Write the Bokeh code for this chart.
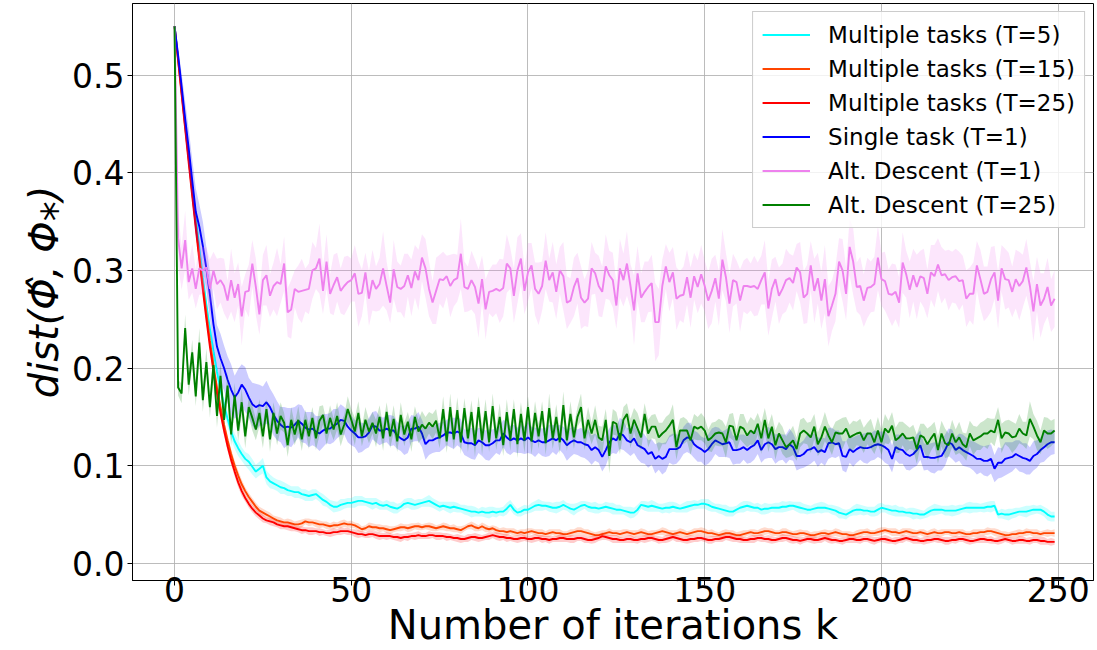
import numpy as np
from bokeh.plotting import figure
from bokeh.models import (Legend, LegendItem, FixedTicker, PrintfTickFormatter, Range1d)
from bokeh.embed import file_html
from bokeh.resources import INLINE

ITERATIONS = list(range(250))
X_TICKS = [0, 50, 100, 150, 200, 250]
Y_TICKS = [0.0, 0.1, 0.2, 0.3, 0.4, 0.5]

LABELS = ["Multiple tasks (T=5)", "Multiple tasks (T=15)", "Multiple tasks (T=25)",
          "Single task (T=1)", "Alt. Descent (T=1)", "Alt. Descent (T=25)"]
X_TITLE = "Number of iterations k"
Y_TITLE = "dist(Φ̂, Φ⁎)"

CYAN_MEAN = [
    .550,.517,.484,.451,.418,.386,.354,.323,.293,.265,.240,.217,.196,.178,.162,.148,.135,.125,.118,.112,.107,.104,.099,.094,.097,
    .100,.088,.084,.082,.080,.078,.077,.075,.074,.073,.073,.071,.070,.069,.070,.071,.068,.065,.063,.060,.058,.058,.060,.061,.062,
    .062,.063,.064,.064,.063,.062,.061,.062,.060,.059,.060,.058,.057,.056,.058,.061,.062,.061,.060,.061,.062,.063,.064,.062,.060,
    .058,.059,.058,.057,.058,.057,.056,.055,.054,.053,.053,.052,.053,.052,.052,.053,.052,.053,.053,.056,.060,.055,.052,.053,.055,
    .055,.057,.059,.060,.059,.059,.058,.057,.057,.058,.060,.058,.056,.055,.057,.059,.060,.058,.057,.057,.056,.057,.058,.057,.056,
    .055,.055,.054,.053,.052,.052,.055,.060,.059,.058,.059,.058,.057,.056,.057,.057,.058,.057,.056,.057,.058,.059,.060,.060,.061,
    .061,.060,.058,.057,.056,.055,.054,.053,.053,.055,.057,.058,.059,.058,.057,.057,.055,.056,.056,.057,.057,.057,.058,.058,.059,
    .059,.058,.057,.056,.055,.055,.056,.057,.057,.057,.056,.055,.054,.052,.051,.050,.052,.054,.055,.055,.054,.054,.053,.053,.055,
    .057,.056,.055,.054,.054,.053,.053,.052,.052,.051,.051,.050,.050,.052,.054,.055,.055,.055,.054,.054,.054,.054,.055,.056,.057,
    .057,.057,.057,.057,.057,.058,.058,.059,.050,.051,.050,.050,.051,.052,.053,.053,.053,.054,.055,.055,.055,.053,.050,.048,.048]
CYAN_STD = [
    .000,.002,.003,.004,.004,.005,.005,.006,.006,.006,.007,.007,.007,.008,.008,.008,.008,.008,.008,.007,.007,.008,.008,.007,.007,
    .008,.007,.007,.006,.006,.007,.006,.006,.005,.006,.006,.005,.006,.005,.006,.005,.005,.006,.005,.005,.006,.005,.006,.005,.005,
    .005,.006,.005,.005,.004,.005,.006,.005,.005,.004,.005,.005,.006,.005,.004,.005,.005,.006,.005,.005,.004,.005,.006,.005,.005,
    .005,.004,.005,.006,.005,.005,.004,.005,.005,.006,.005,.004,.005,.005,.006,.005,.005,.004,.005,.006,.005,.005,.004,.005,.005,
    .004,.005,.005,.006,.005,.004,.005,.005,.006,.005,.005,.004,.005,.006,.005,.005,.004,.005,.005,.006,.005,.004,.005,.005,.006,
    .005,.005,.004,.005,.006,.005,.005,.004,.005,.005,.006,.005,.004,.005,.005,.006,.005,.005,.004,.005,.006,.005,.005,.004,.005,
    .005,.006,.005,.004,.005,.005,.006,.005,.005,.004,.005,.006,.005,.005,.004,.005,.005,.006,.005,.004,.005,.005,.006,.005,.005,
    .004,.005,.006,.005,.005,.004,.005,.005,.006,.005,.004,.005,.005,.006,.005,.005,.004,.005,.006,.005,.005,.004,.005,.005,.006,
    .005,.004,.005,.005,.006,.005,.005,.004,.005,.006,.005,.005,.004,.005,.005,.006,.005,.004,.005,.005,.006,.005,.005,.004,.005,
    .006,.005,.005,.004,.005,.005,.006,.005,.004,.005,.005,.006,.005,.005,.004,.005,.006,.005,.005,.004,.005,.005,.006,.005,.005]

ORANGE_MEAN = [
    .550,.516,.482,.448,.414,.380,.347,.315,.285,.256,.228,.203,.180,.160,.142,.126,.112,.100,.090,.081,.074,.068,.063,.058,.054,
    .052,.050,.048,.046,.044,.043,.042,.042,.041,.040,.040,.041,.043,.042,.042,.041,.040,.040,.039,.038,.039,.039,.040,.041,.040,
    .040,.039,.037,.035,.036,.038,.037,.037,.036,.036,.035,.034,.035,.036,.037,.037,.036,.037,.038,.038,.037,.038,.038,.037,.036,
    .037,.038,.037,.036,.036,.035,.034,.036,.038,.039,.037,.036,.038,.036,.035,.036,.034,.033,.033,.032,.033,.032,.031,.032,.031,
    .032,.033,.032,.031,.031,.030,.031,.032,.031,.031,.030,.030,.031,.032,.033,.033,.032,.031,.030,.029,.029,.030,.031,.032,.031,
    .031,.030,.031,.032,.031,.030,.031,.032,.031,.030,.030,.031,.032,.033,.032,.031,.030,.031,.032,.031,.030,.031,.032,.033,.033,
    .032,.031,.031,.030,.029,.030,.031,.031,.030,.029,.029,.030,.031,.032,.031,.031,.032,.033,.033,.032,.031,.031,.032,.032,.031,
    .030,.030,.031,.031,.030,.029,.029,.030,.031,.031,.030,.031,.032,.031,.030,.030,.029,.029,.030,.031,.032,.032,.031,.031,.032,
    .033,.034,.033,.032,.032,.031,.032,.033,.032,.031,.031,.032,.031,.030,.031,.032,.031,.031,.032,.032,.031,.031,.032,.031,.030,
    .030,.031,.031,.032,.032,.033,.033,.032,.031,.030,.029,.029,.030,.030,.031,.031,.032,.032,.031,.031,.030,.031,.031,.031,.031]
ORANGE_STD = [
    .000,.002,.003,.003,.004,.004,.004,.005,.005,.005,.005,.005,.005,.005,.005,.005,.005,.005,.005,.005,.004,.004,.004,.004,.004,
    .004,.004,.004,.003,.004,.004,.003,.004,.004,.003,.004,.004,.003,.004,.003,.004,.004,.003,.004,.003,.004,.003,.004,.004,.003,
    .004,.003,.004,.003,.003,.004,.004,.003,.004,.003,.004,.004,.003,.003,.004,.003,.004,.004,.003,.004,.003,.003,.004,.004,.003,
    .003,.004,.004,.003,.004,.003,.004,.003,.003,.004,.004,.003,.004,.004,.003,.003,.004,.003,.004,.004,.003,.004,.003,.003,.004,
    .004,.003,.003,.004,.004,.003,.004,.003,.004,.004,.003,.003,.004,.003,.004,.004,.003,.004,.003,.003,.004,.004,.003,.004,.003,
    .003,.004,.004,.003,.003,.004,.003,.004,.004,.003,.004,.003,.003,.004,.004,.003,.004,.003,.004,.004,.003,.003,.004,.003,.004,
    .004,.003,.004,.003,.003,.004,.004,.003,.004,.003,.004,.004,.003,.003,.004,.003,.004,.004,.003,.004,.003,.003,.004,.004,.003,
    .003,.004,.004,.003,.004,.003,.004,.003,.003,.004,.004,.003,.004,.004,.003,.003,.004,.003,.004,.004,.003,.004,.003,.003,.004,
    .004,.003,.003,.004,.004,.003,.004,.003,.004,.004,.003,.003,.004,.003,.004,.004,.003,.004,.003,.003,.004,.004,.003,.004,.003,
    .003,.004,.004,.003,.003,.004,.003,.004,.004,.003,.004,.003,.003,.004,.004,.003,.004,.003,.004,.004,.003,.003,.004,.003,.004]

RED_MEAN = [
    .550,.515,.480,.445,.410,.376,.343,.311,.280,.250,.222,.197,.174,.154,.136,.120,.106,.094,.083,.074,.067,.061,.056,.052,.049,
    .046,.044,.043,.042,.040,.039,.038,.038,.037,.036,.035,.034,.034,.033,.033,.033,.032,.032,.031,.031,.032,.032,.033,.033,.033,
    .032,.031,.030,.030,.029,.030,.030,.029,.028,.028,.028,.028,.027,.027,.026,.027,.027,.028,.028,.029,.028,.028,.029,.029,.028,
    .028,.028,.027,.027,.026,.026,.025,.025,.026,.027,.027,.026,.026,.027,.028,.029,.028,.027,.027,.026,.026,.025,.025,.026,.026,
    .025,.025,.026,.026,.025,.025,.024,.025,.025,.026,.026,.025,.025,.025,.026,.026,.025,.024,.024,.025,.026,.028,.027,.026,.025,
    .025,.024,.024,.025,.025,.024,.024,.025,.025,.026,.026,.025,.024,.024,.025,.026,.027,.026,.025,.024,.024,.025,.025,.026,.026,
    .025,.024,.024,.025,.025,.026,.027,.027,.026,.025,.025,.024,.024,.025,.025,.026,.026,.025,.025,.024,.024,.025,.026,.026,.025,
    .024,.024,.023,.024,.025,.025,.024,.024,.025,.026,.025,.024,.024,.023,.023,.024,.025,.025,.024,.024,.025,.025,.024,.023,.024,
    .025,.025,.024,.023,.023,.024,.025,.026,.025,.024,.024,.023,.023,.024,.024,.025,.025,.024,.023,.023,.024,.024,.025,.025,.024,
    .023,.023,.024,.025,.025,.024,.024,.023,.023,.024,.025,.024,.023,.023,.024,.024,.023,.023,.024,.024,.023,.023,.022,.022,.022]
RED_STD = [
    .000,.002,.003,.003,.004,.004,.004,.005,.005,.005,.005,.005,.005,.005,.005,.005,.005,.005,.005,.005,.004,.004,.004,.004,.004,
    .004,.003,.004,.004,.003,.004,.003,.004,.004,.003,.003,.004,.003,.004,.004,.003,.004,.003,.003,.004,.004,.003,.004,.003,.004,
    .003,.004,.004,.003,.003,.004,.003,.004,.004,.003,.004,.003,.003,.004,.004,.003,.004,.003,.004,.004,.003,.003,.004,.003,.004,
    .004,.003,.004,.003,.003,.004,.004,.003,.004,.003,.004,.004,.003,.003,.004,.003,.004,.004,.003,.004,.003,.003,.004,.004,.003,
    .003,.004,.004,.003,.004,.003,.004,.003,.003,.004,.004,.003,.004,.004,.003,.003,.004,.003,.004,.004,.003,.004,.003,.003,.004,
    .004,.003,.003,.004,.004,.003,.004,.003,.004,.004,.003,.003,.004,.003,.004,.004,.003,.004,.003,.003,.004,.004,.003,.004,.003,
    .003,.004,.004,.003,.003,.004,.003,.004,.004,.003,.004,.003,.003,.004,.004,.003,.004,.003,.004,.004,.003,.003,.004,.003,.004,
    .004,.003,.004,.003,.003,.004,.004,.003,.004,.003,.004,.004,.003,.003,.004,.003,.004,.004,.003,.004,.003,.003,.004,.004,.003,
    .003,.004,.004,.003,.004,.003,.004,.003,.003,.004,.004,.003,.004,.004,.003,.003,.004,.003,.004,.004,.003,.004,.003,.003,.004,
    .004,.003,.003,.004,.004,.003,.004,.003,.004,.004,.003,.003,.004,.003,.004,.004,.003,.004,.003,.003,.004,.004,.003,.004,.003]

BLUE_MEAN = [
    .550,.520,.488,.455,.425,.392,.360,.345,.325,.302,.275,.245,.222,.210,.200,.188,.178,.170,.175,.183,.178,.170,.163,.160,.162,
    .161,.165,.160,.152,.146,.142,.139,.140,.139,.142,.146,.143,.139,.137,.138,.135,.133,.136,.138,.138,.141,.143,.147,.146,.140,
    .136,.133,.129,.129,.130,.134,.141,.140,.136,.136,.138,.136,.136,.131,.128,.126,.129,.138,.138,.140,.133,.122,.126,.126,.128,
    .129,.131,.134,.134,.133,.135,.133,.124,.123,.123,.121,.126,.124,.121,.121,.123,.126,.126,.133,.129,.126,.128,.126,.128,.126,
    .129,.126,.124,.126,.124,.124,.126,.128,.126,.129,.126,.121,.124,.126,.124,.124,.122,.121,.116,.119,.116,.109,.116,.124,.128,
    .126,.133,.131,.126,.124,.128,.121,.119,.117,.112,.114,.107,.110,.107,.109,.117,.117,.117,.119,.126,.129,.128,.122,.119,.117,
    .114,.117,.122,.126,.124,.122,.123,.124,.116,.116,.117,.119,.116,.119,.121,.126,.116,.122,.124,.122,.117,.119,.119,.117,.122,
    .119,.110,.110,.112,.116,.117,.119,.114,.116,.114,.123,.124,.122,.123,.110,.109,.117,.114,.117,.119,.118,.118,.119,.121,.122,
    .121,.119,.116,.107,.119,.117,.116,.112,.110,.112,.116,.121,.109,.109,.108,.108,.109,.110,.116,.124,.122,.116,.119,.116,.114,
    .112,.110,.107,.107,.105,.105,.107,.097,.103,.103,.107,.108,.109,.112,.110,.108,.107,.105,.110,.112,.116,.119,.122,.124,.124]
BLUE_STD = [
    .000,.008,.014,.018,.020,.022,.024,.023,.025,.022,.024,.026,.022,.025,.023,.024,.026,.022,.024,.021,.023,.020,.022,.024,.021,
    .020,.022,.019,.021,.020,.018,.021,.019,.020,.018,.017,.019,.016,.018,.017,.016,.018,.017,.015,.016,.017,.015,.016,.014,.016,
    .015,.014,.016,.015,.013,.015,.014,.016,.015,.013,.014,.016,.015,.014,.013,.015,.016,.014,.013,.015,.014,.016,.015,.013,.014,
    .015,.014,.013,.015,.016,.014,.015,.013,.014,.016,.015,.013,.014,.015,.016,.014,.013,.015,.014,.016,.015,.014,.013,.015,.014,
    .016,.014,.015,.013,.014,.015,.016,.014,.015,.013,.014,.016,.015,.014,.013,.015,.014,.016,.015,.014,.013,.015,.016,.014,.015,
    .014,.016,.015,.013,.014,.015,.014,.016,.015,.014,.013,.015,.014,.016,.015,.014,.016,.015,.013,.014,.015,.016,.014,.015,.013,
    .014,.015,.016,.014,.015,.013,.014,.016,.015,.014,.015,.013,.014,.016,.015,.014,.013,.015,.016,.014,.015,.014,.013,.015,.016,
    .014,.015,.013,.014,.016,.015,.014,.015,.013,.014,.016,.015,.014,.013,.015,.016,.014,.015,.014,.013,.015,.016,.014,.015,.013,
    .014,.016,.015,.014,.013,.015,.014,.016,.015,.014,.016,.015,.014,.013,.015,.016,.014,.015,.016,.014,.015,.013,.014,.016,.015,
    .014,.015,.016,.014,.015,.016,.015,.014,.016,.015,.017,.016,.015,.014,.016,.015,.016,.014,.015,.014,.013,.015,.014,.013,.012]

PINK_MEAN = [
    .550,.333,.302,.331,.288,.302,.281,.302,.300,.303,.281,.300,.286,.290,.284,.269,.290,.272,.286,.253,.278,.279,.307,.283,.255,
    .290,.295,.274,.284,.288,.286,.307,.257,.260,.281,.278,.279,.280,.281,.300,.302,.312,.279,.309,.276,.285,.293,.279,.284,.288,
    .290,.297,.276,.277,.298,.271,.290,.281,.286,.302,.284,.267,.301,.283,.281,.284,.295,.282,.299,.290,.313,.302,.281,.267,.279,
    .291,.290,.294,.284,.290,.292,.317,.283,.281,.290,.283,.266,.291,.260,.278,.279,.281,.279,.282,.307,.302,.274,.300,.312,.279,
    .298,.305,.281,.276,.284,.310,.290,.298,.278,.300,.294,.267,.269,.283,.292,.272,.267,.271,.302,.297,.284,.278,.304,.295,.290,
    .264,.302,.290,.307,.284,.259,.297,.272,.278,.283,.287,.247,.247,.284,.304,.288,.298,.271,.274,.275,.293,.272,.294,.283,.296,
    .284,.269,.279,.292,.271,.311,.293,.266,.290,.288,.269,.284,.284,.283,.284,.281,.290,.298,.261,.281,.291,.274,.281,.290,.292,
    .287,.303,.298,.272,.276,.305,.279,.292,.269,.291,.253,.264,.276,.309,.300,.276,.324,.309,.283,.284,.269,.282,.283,.286,.313,
    .291,.289,.276,.275,.278,.267,.308,.296,.280,.295,.283,.294,.292,.276,.298,.294,.306,.295,.296,.290,.293,.294,.289,.290,.271,
    .276,.276,.305,.291,.276,.278,.291,.298,.269,.302,.291,.290,.278,.291,.284,.289,.303,.284,.258,.286,.264,.271,.283,.264,.271]
PINK_STD = [
    .000,.028,.022,.030,.018,.025,.020,.027,.024,.021,.030,.019,.026,.023,.028,.020,.032,.025,.022,.030,.018,.027,.024,.029,.021,
    .026,.031,.022,.024,.035,.020,.028,.025,.030,.019,.027,.033,.022,.026,.029,.021,.036,.024,.028,.020,.031,.025,.023,.030,.027,
    .022,.029,.034,.024,.020,.028,.031,.023,.027,.038,.025,.021,.030,.026,.024,.033,.022,.029,.027,.031,.024,.030,.028,.022,.034,
    .025,.029,.021,.032,.027,.024,.036,.026,.023,.030,.028,.035,.024,.031,.022,.027,.025,.033,.029,.030,.021,.028,.034,.026,.024,
    .030,.023,.027,.032,.025,.029,.022,.031,.028,.024,.035,.027,.023,.030,.026,.032,.024,.029,.027,.021,.031,.026,.033,.025,.028,
    .024,.030,.027,.033,.022,.036,.028,.025,.031,.026,.029,.040,.034,.027,.023,.030,.026,.032,.025,.029,.028,.031,.024,.027,.030,
    .026,.029,.033,.024,.028,.031,.025,.030,.027,.022,.032,.026,.029,.024,.031,.027,.025,.033,.028,.030,.023,.029,.026,.032,.025,
    .028,.024,.031,.027,.030,.025,.033,.026,.029,.035,.031,.026,.028,.024,.032,.027,.029,.034,.025,.030,.027,.031,.026,.028,.033,
    .027,.030,.025,.032,.028,.026,.031,.024,.029,.027,.033,.026,.030,.025,.028,.032,.027,.029,.024,.031,.026,.028,.030,.025,.029,
    .027,.032,.025,.030,.028,.026,.033,.027,.029,.024,.031,.028,.026,.030,.035,.027,.029,.025,.031,.028,.033,.026,.030,.027,.029]

GREEN_MEAN = [
    .550,.180,.174,.241,.183,.216,.171,.226,.167,.206,.160,.203,.151,.192,.147,.182,.132,.172,.136,.165,.130,.160,.149,.137,.154,
    .130,.158,.127,.154,.133,.151,.144,.121,.147,.132,.147,.127,.147,.130,.149,.128,.146,.152,.133,.149,.137,.151,.132,.142,.158,
    .147,.135,.154,.130,.147,.135,.144,.133,.150,.128,.155,.130,.148,.125,.152,.132,.145,.127,.150,.135,.142,.138,.144,.140,.146,
    .128,.158,.125,.160,.127,.157,.124,.159,.128,.155,.122,.160,.126,.156,.124,.161,.128,.150,.121,.155,.127,.158,.122,.153,.126,
    .160,.125,.154,.130,.156,.123,.159,.128,.150,.124,.162,.126,.153,.129,.150,.160,.128,.147,.133,.147,.129,.126,.147,.110,.145,
    .143,.126,.147,.153,.133,.147,.138,.129,.153,.133,.140,.140,.129,.133,.136,.141,.147,.119,.136,.136,.136,.126,.140,.138,.140,
    .136,.126,.129,.133,.134,.133,.124,.141,.140,.126,.140,.138,.131,.136,.133,.143,.128,.147,.128,.140,.121,.133,.126,.119,.122,
    .126,.117,.133,.136,.133,.129,.140,.122,.129,.140,.131,.124,.134,.133,.133,.138,.129,.131,.133,.134,.126,.133,.133,.124,.136,
    .124,.138,.134,.141,.126,.129,.133,.128,.128,.129,.117,.131,.129,.122,.128,.133,.116,.133,.123,.121,.133,.124,.129,.122,.119,
    .133,.126,.128,.130,.133,.133,.136,.134,.147,.128,.134,.133,.129,.130,.138,.133,.131,.148,.140,.131,.124,.136,.133,.133,.136]
GREEN_STD = [
    .000,.008,.010,.014,.011,.013,.010,.015,.012,.014,.011,.013,.012,.015,.010,.014,.012,.013,.011,.014,.012,.010,.013,.011,.014,
    .012,.010,.013,.011,.012,.014,.010,.012,.013,.011,.014,.012,.010,.013,.011,.012,.015,.010,.012,.013,.011,.014,.012,.010,.013,
    .011,.014,.012,.010,.013,.012,.011,.014,.012,.013,.010,.012,.014,.011,.013,.012,.010,.013,.011,.012,.014,.012,.011,.013,.012,
    .010,.013,.012,.014,.011,.013,.012,.010,.014,.012,.013,.011,.015,.012,.010,.013,.012,.014,.011,.013,.012,.010,.014,.012,.013,
    .011,.014,.012,.013,.010,.012,.015,.011,.013,.012,.014,.011,.013,.012,.010,.014,.012,.013,.011,.015,.012,.014,.011,.018,.013,
    .012,.014,.013,.011,.015,.012,.016,.013,.011,.014,.012,.013,.015,.011,.014,.012,.016,.013,.012,.014,.011,.015,.013,.012,.014,
    .013,.011,.015,.012,.014,.013,.016,.012,.014,.011,.013,.015,.012,.014,.013,.011,.016,.012,.014,.013,.015,.012,.014,.011,.013,
    .015,.012,.014,.013,.011,.016,.013,.012,.014,.015,.012,.013,.011,.014,.016,.012,.013,.015,.012,.014,.013,.011,.015,.012,.014,
    .013,.015,.012,.014,.013,.016,.012,.014,.011,.013,.015,.012,.014,.016,.013,.012,.014,.013,.015,.012,.014,.013,.016,.012,.014,
    .013,.015,.012,.014,.013,.016,.012,.014,.013,.015,.012,.014,.016,.013,.015,.012,.014,.018,.013,.015,.012,.014,.016,.013,.012]

MEANS = [CYAN_MEAN, ORANGE_MEAN, RED_MEAN, BLUE_MEAN, PINK_MEAN, GREEN_MEAN]
STDS = [CYAN_STD, ORANGE_STD, RED_STD, BLUE_STD, PINK_STD, GREEN_STD]
COLORS = ["#00ffff", "#ff4500", "#ff0000", "#0000ff", "#ee82ee", "#008000"]

FONT = "DejaVu Sans"

p = figure(width=1096, height=650, output_backend="svg", toolbar_location=None,
           x_range=Range1d(-11.9, 260.0), y_range=Range1d(-0.0175, 0.5732),
           min_border_left=132, min_border_right=3, min_border_top=3, min_border_bottom=68)

items = []
for label, mean, std, color in zip(LABELS, MEANS, STDS, COLORS):
    n = min(len(mean), len(std), len(ITERATIONS))
    x = np.array(ITERATIONS[:n], dtype=float)
    m = np.array(mean[:n])
    s = np.array(std[:n])
    p.varea(x=x, y1=m - s, y2=m + s, fill_color=color, fill_alpha=0.2)
    r = p.line(x=x, y=m, line_color=color, line_width=1.9)
    items.append(LegendItem(label=label, renderers=[r]))

p.xaxis.ticker = FixedTicker(ticks=X_TICKS)
p.yaxis.ticker = FixedTicker(ticks=Y_TICKS)
p.yaxis.formatter = PrintfTickFormatter(format="%.1f")

for ax in (p.xaxis[0], p.yaxis[0]):
    ax.major_label_text_font = FONT
    ax.major_label_text_font_size = "33px"
    ax.major_label_text_color = "black"
    ax.axis_label_text_font = FONT
    ax.axis_label_text_font_size = "40px"
    ax.axis_label_text_color = "black"
    ax.major_tick_out = 5
    ax.major_tick_in = 0
    ax.minor_tick_out = 0
    ax.minor_tick_in = 0
    ax.axis_line_color = "black"
    ax.major_tick_line_color = "black"

p.xaxis.axis_label = X_TITLE
p.xaxis.axis_label_text_font_style = "normal"
p.xaxis.major_label_standoff = -9
p.xaxis.axis_label_standoff = -3

p.yaxis.axis_label = Y_TITLE
p.yaxis.axis_label_text_font_style = "italic"
p.yaxis.major_label_standoff = 3
p.yaxis.axis_label_standoff = 2

p.outline_line_color = "black"
p.outline_line_alpha = 1
p.outline_line_width = 1
p.grid.grid_line_color = "#b0b0b0"
p.grid.grid_line_width = 1
p.grid.grid_line_alpha = 0.85

legend = Legend(items=items, location="top_right",
                label_text_font=FONT, label_text_font_size="23px",
                label_text_color="black",
                glyph_width=48, glyph_height=27, label_height=27,
                label_standoff=18, spacing=7, padding=9, margin=8,
                border_line_color="#cccccc", border_line_alpha=1,
                background_fill_color="white", background_fill_alpha=0.8)
p.add_layout(legend)

open("out.html", "w").write(file_html(p, INLINE))
